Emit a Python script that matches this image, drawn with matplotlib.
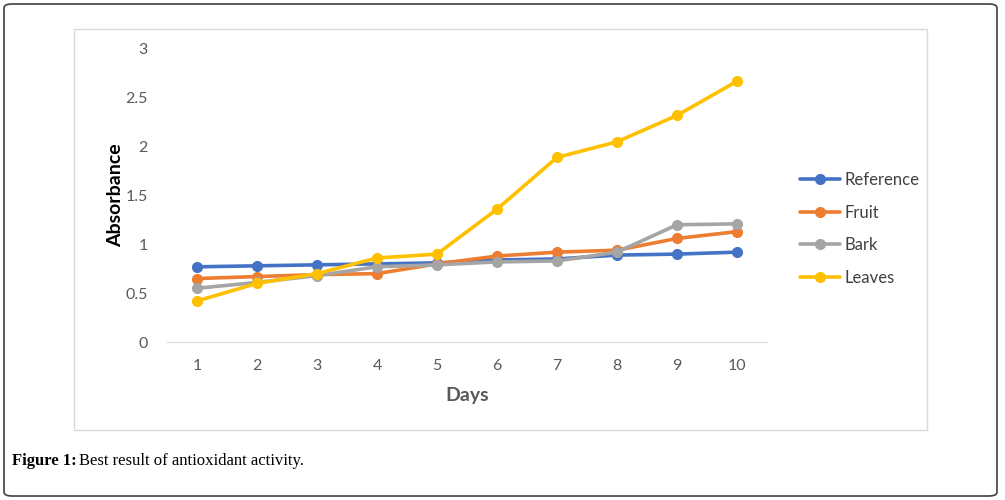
import matplotlib.pyplot as plt
from matplotlib.patches import FancyBboxPatch, Rectangle

days = [1, 2, 3, 4, 5, 6, 7, 8, 9, 10]
reference = [0.77, 0.78, 0.79, 0.80, 0.81, 0.84, 0.85, 0.89, 0.90, 0.92]
fruit = [0.65, 0.67, 0.69, 0.70, 0.80, 0.88, 0.92, 0.94, 1.06, 1.13]
bark = [0.55, 0.61, 0.68, 0.77, 0.79, 0.82, 0.83, 0.92, 1.20, 1.21]
leaves = [0.42, 0.60, 0.70, 0.86, 0.90, 1.36, 1.89, 2.05, 2.32, 2.67]

series = [("Reference", reference, "#4472C4"),
          ("Fruit", fruit, "#ED7D31"),
          ("Bark", bark, "#A5A5A5"),
          ("Leaves", leaves, "#FFC000")]

plt.rcParams["font.family"] = ["Lato", "DejaVu Sans"]

fig = plt.figure(figsize=(10.05, 5.0), dpi=100)

# outer rounded frame and inner chart box
fig.patches.append(FancyBboxPatch((4 / 1005, 4 / 500), 993 / 1005, 492 / 500,
                                  boxstyle="round,pad=0,rounding_size=0.008",
                                  transform=fig.transFigure, fill=False,
                                  edgecolor="#404040", linewidth=1.2))
fig.patches.append(Rectangle((74 / 1005, 1 - 430 / 500), 853 / 1005, 401 / 500,
                             transform=fig.transFigure, fill=False,
                             edgecolor="#d9d9d9", linewidth=1.0))

ax = fig.add_axes([167 / 1005, 1 - 342 / 500, 600 / 1005, 293 / 500])
for name, vals, col in series:
    ax.plot(days, vals, color=col, linewidth=2.6, marker="o", markersize=7,
            label=name, solid_capstyle="round")

ax.set_xlim(0.5, 10.5)
ax.set_ylim(0, 3)
ax.set_xticks(days)
ax.set_yticks([0, 0.5, 1, 1.5, 2, 2.5, 3])
ax.set_yticklabels(["0", "0.5", "1", "1.5", "2", "2.5", "3"])
for s in ["top", "right", "left"]:
    ax.spines[s].set_visible(False)
ax.spines["bottom"].set_color("#d9d9d9")
ax.tick_params(length=0, labelsize=11.5, colors="#595959", pad=12)
ax.tick_params(axis="y", pad=14)
ax.set_xlabel("Days", fontsize=14, fontweight="bold", color="#595959", labelpad=10)
ax.set_ylabel("Absorbance", fontsize=14, fontweight="bold", color="black", labelpad=1)

leg = ax.legend(loc="center left", bbox_to_anchor=(1.03, 0.386), frameon=False,
                fontsize=12, handlelength=2.4, labelspacing=1.0, handletextpad=0.25)
for t in leg.get_texts():
    t.set_color("#404040")

fig.text(12 / 1005, 1 - 461 / 500, "Figure 1:", fontsize=12, fontweight="bold",
         family="Liberation Serif", va="center")
fig.text(79 / 1005, 1 - 461 / 500, "Best result of antioxidant activity.", fontsize=12,
         family="Liberation Serif", va="center")

plt.savefig("out.png")
